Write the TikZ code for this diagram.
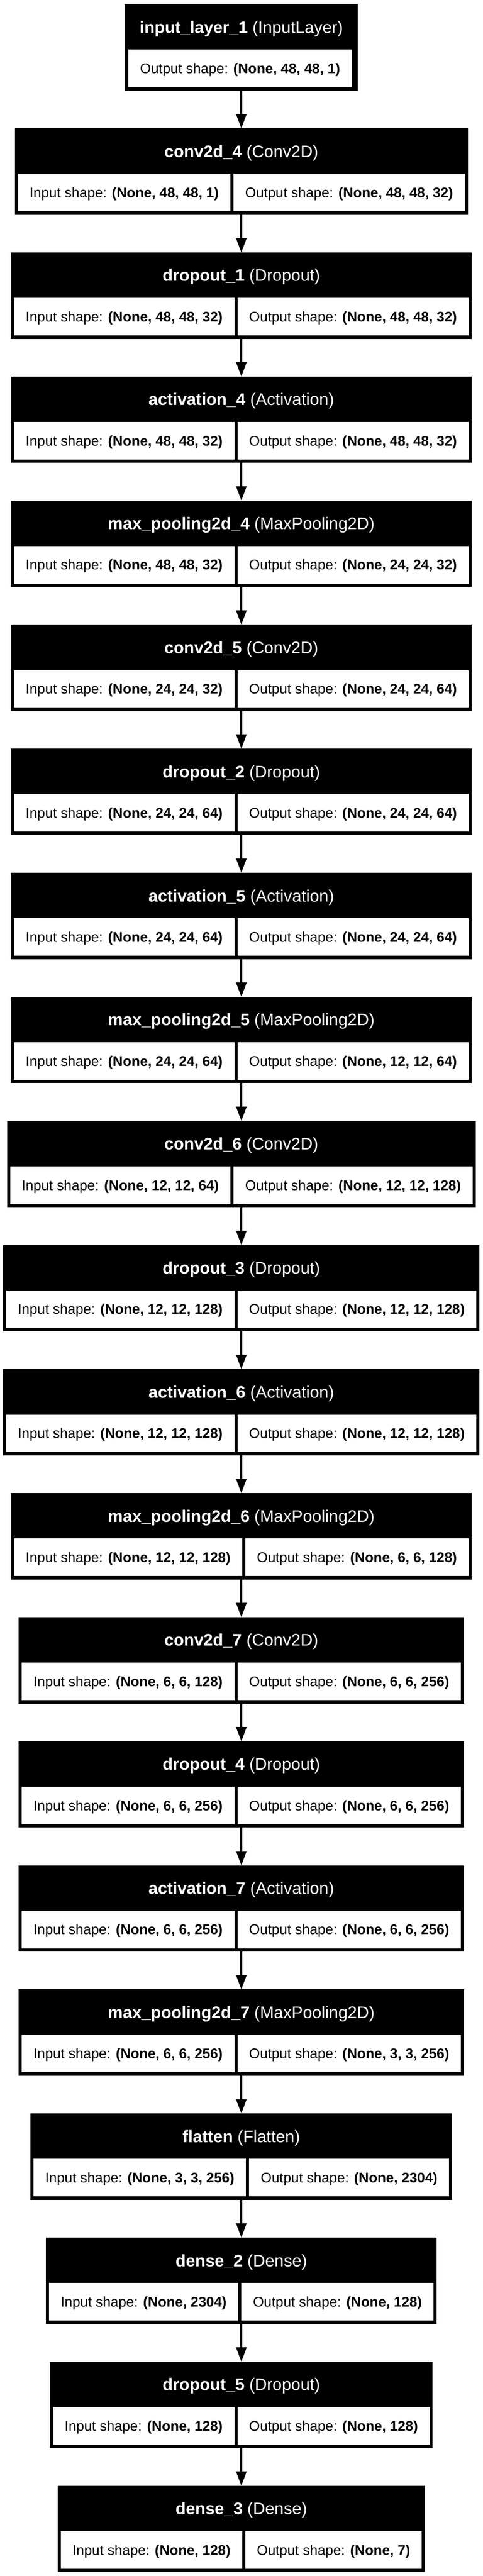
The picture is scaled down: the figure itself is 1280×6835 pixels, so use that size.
\documentclass[tikz,border=0pt]{standalone}
\usepackage{fontspec}
\setmainfont{Liberation Sans}
\usetikzlibrary{arrows.meta}
\newlength\lw
\newlength\rw
\newlength\tw
\newcommand\cellfont{\fontsize{37.2}{44}\selectfont}
\newcommand\titlefont{\fontsize{44.5}{52}\selectfont}
\newcommand\measurewd[2]{\pgfinterruptpicture\setbox0\hbox{\normalfont #2}\global#1=\wd0\relax\endpgfinterruptpicture}
\tikzset{
  boxfill/.style={fill=black, draw=none, inner sep=0pt, outer sep=0pt},
  cellfill/.style={fill=white, draw=none, inner sep=0pt, outer sep=0pt},
  conn/.style={line width=5pt, -{Triangle[length=38pt 0 0, width=27pt 0 0]}},
  titletxt/.style={text=white, anchor=base, inner sep=0pt, font=\titlefont},
  celltxt/.style={text=black, anchor=base, inner sep=0pt, font=\cellfont},
}
% #1 node name, #2 index, #3 layer name, #4 class, #5 input shape, #6 output shape
\newcommand\layerbox[6]{%
  \measurewd\lw{\cellfont Input shape: \textbf{#5}}%
  \measurewd\rw{\cellfont Output shape: \textbf{#6}}%
  \measurewd\tw{\titlefont\textbf{#3} (#4)}%
  \pgfmathsetmacro\ty{11.4+#2*329.2}%
  \pgfmathsetmacro\cw{\lw+\rw+148}%
  \pgfmathsetmacro\W{max(\cw,\tw+78)}%
  \pgfmathsetmacro\ex{(\W-\cw)/2}%
  \pgfmathsetmacro\Lx{640-\W/2}%
  \pgfmathsetmacro\Rx{640+\W/2}%
  \pgfmathsetmacro\lcw{\lw+62+\ex}%
  \pgfmathsetmacro\rcw{\rw+62+\ex}%
  \pgfmathsetmacro\lcx{\Lx+8+\lcw/2}%
  \pgfmathsetmacro\rcx{\Rx-8-\rcw/2}%
  \node[boxfill, minimum width=\W pt, minimum height=229pt] (#1) at (640,\ty+114.5) {};
  \node[cellfill, minimum width=\lcw pt, minimum height=99.5pt] (#1-in) at (\lcx,\ty+170.25) {};
  \node[cellfill, minimum width=\rcw pt, minimum height=99.5pt] (#1-out) at (\rcx,\ty+170.25) {};
  \node[titletxt] (#1-title) at (640,\ty+76.5) {\textbf{#3} (#4)};
  \node[celltxt] (#1-intxt) at (\lcx,\ty+183.6) {Input shape: \textbf{#5}};
  \node[celltxt] (#1-outtxt) at (\rcx,\ty+183.6) {Output shape: \textbf{#6}};
}
\begin{document}
\begin{tikzpicture}[x=1pt,y=-1pt]
\fill[white] (0,0) rectangle (1280,6835);
\useasboundingbox (0,0) rectangle (1280,6835);
% input layer
\measurewd\rw{\cellfont Output shape: \textbf{(None, 48, 48, 1)}}%
\measurewd\tw{\titlefont\textbf{input\_layer\_1} (InputLayer)}%
\pgfmathsetmacro\W{max(\rw+78,\tw+78)}%
\pgfmathsetmacro\Lx{640-\W/2}%
\pgfmathsetmacro\Rx{640+\W/2}%
\pgfmathsetmacro\ccw{\W-23.5}%
\pgfmathsetmacro\ccx{\Lx+8.5+\ccw/2}%
\node[boxfill, minimum width=\W pt, minimum height=229pt] (L0) at (640,11.4+114.5) {};
\node[cellfill, minimum width=\ccw pt, minimum height=99.5pt] (L0-out) at (\ccx,11.4+170.25) {};
\node[titletxt] (L0-title) at (640,11.4+76.5) {\textbf{input\_layer\_1} (InputLayer)};
\node[celltxt] (L0-outtxt) at (\ccx,11.4+183.6) {Output shape: \textbf{(None, 48, 48, 1)}};
\layerbox{L1}{1}{conv2d\_4}{Conv2D}{(None, 48, 48, 1)}{(None, 48, 48, 32)}
\layerbox{L2}{2}{dropout\_1}{Dropout}{(None, 48, 48, 32)}{(None, 48, 48, 32)}
\layerbox{L3}{3}{activation\_4}{Activation}{(None, 48, 48, 32)}{(None, 48, 48, 32)}
\layerbox{L4}{4}{max\_pooling2d\_4}{MaxPooling2D}{(None, 48, 48, 32)}{(None, 24, 24, 32)}
\layerbox{L5}{5}{conv2d\_5}{Conv2D}{(None, 24, 24, 32)}{(None, 24, 24, 64)}
\layerbox{L6}{6}{dropout\_2}{Dropout}{(None, 24, 24, 64)}{(None, 24, 24, 64)}
\layerbox{L7}{7}{activation\_5}{Activation}{(None, 24, 24, 64)}{(None, 24, 24, 64)}
\layerbox{L8}{8}{max\_pooling2d\_5}{MaxPooling2D}{(None, 24, 24, 64)}{(None, 12, 12, 64)}
\layerbox{L9}{9}{conv2d\_6}{Conv2D}{(None, 12, 12, 64)}{(None, 12, 12, 128)}
\layerbox{L10}{10}{dropout\_3}{Dropout}{(None, 12, 12, 128)}{(None, 12, 12, 128)}
\layerbox{L11}{11}{activation\_6}{Activation}{(None, 12, 12, 128)}{(None, 12, 12, 128)}
\layerbox{L12}{12}{max\_pooling2d\_6}{MaxPooling2D}{(None, 12, 12, 128)}{(None, 6, 6, 128)}
\layerbox{L13}{13}{conv2d\_7}{Conv2D}{(None, 6, 6, 128)}{(None, 6, 6, 256)}
\layerbox{L14}{14}{dropout\_4}{Dropout}{(None, 6, 6, 256)}{(None, 6, 6, 256)}
\layerbox{L15}{15}{activation\_7}{Activation}{(None, 6, 6, 256)}{(None, 6, 6, 256)}
\layerbox{L16}{16}{max\_pooling2d\_7}{MaxPooling2D}{(None, 6, 6, 256)}{(None, 3, 3, 256)}
\layerbox{L17}{17}{flatten}{Flatten}{(None, 3, 3, 256)}{(None, 2304)}
\layerbox{L18}{18}{dense\_2}{Dense}{(None, 2304)}{(None, 128)}
\layerbox{L19}{19}{dropout\_5}{Dropout}{(None, 128)}{(None, 128)}
\layerbox{L20}{20}{dense\_3}{Dense}{(None, 128)}{(None, 7)}
\foreach \a/\b in {L0/L1,L1/L2,L2/L3,L3/L4,L4/L5,L5/L6,L6/L7,L7/L8,L8/L9,L9/L10,L10/L11,L11/L12,L12/L13,L13/L14,L14/L15,L15/L16,L16/L17,L17/L18,L18/L19,L19/L20}
  \draw[conn] (\a.south) -- (\b.north);
\end{tikzpicture}
\end{document}
